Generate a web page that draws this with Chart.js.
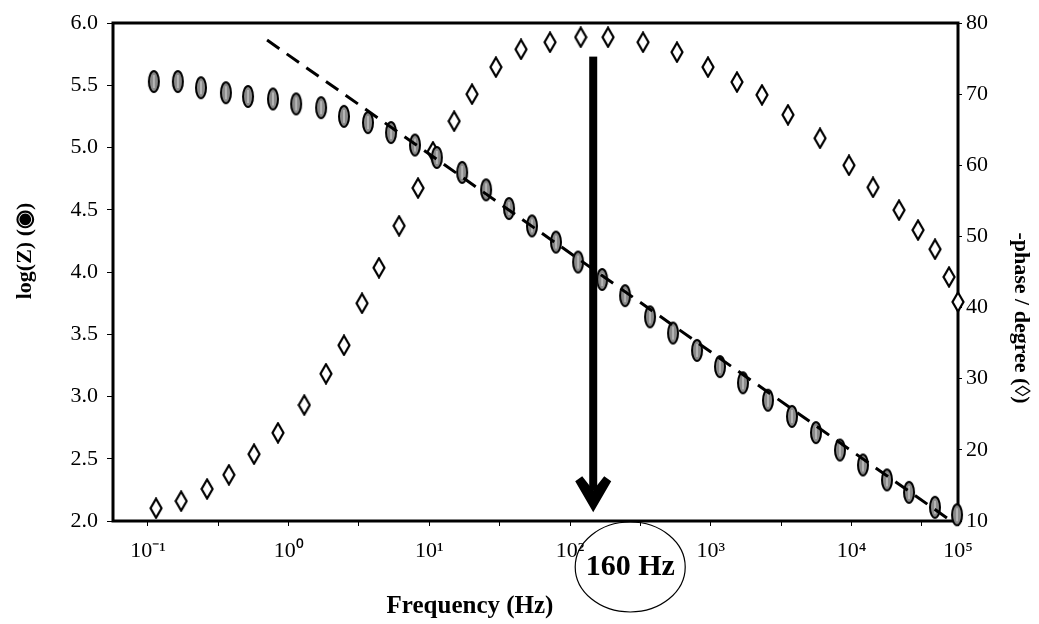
<!DOCTYPE html>
<html>
<head>
<meta charset="utf-8">
<script src="https://cdn.jsdelivr.net/npm/chart.js@4.4.1/dist/chart.umd.min.js"></script>
<style>
  html, body { margin: 0; padding: 0; background: #fff; }
  #wrap { width: 1039px; height: 624px; position: relative; }
</style>
</head>
<body>
<div id="wrap"><canvas id="bode"></canvas></div>
<script>
// |Z| points (filled ellipses), frequency in Hz and log10 of |Z|
const impFreq = [0.110, 0.163, 0.238, 0.358, 0.514, 0.773, 1.13, 1.70, 2.47, 3.66,
    5.34, 7.90, 11.3, 17.1, 25.3, 36.8, 53.6, 79.4, 114, 169,
    246, 370, 539, 798, 1162, 1693, 2548, 3775, 5592, 8283,
    12070, 17880, 25650, 39220, 56260];
const impLogZ = [5.53, 5.53, 5.48, 5.44, 5.41, 5.39, 5.35, 5.32, 5.25, 5.20,
    5.12, 5.02, 4.92, 4.80, 4.66, 4.51, 4.37, 4.24, 4.08, 3.94,
    3.81, 3.64, 3.51, 3.37, 3.24, 3.11, 2.97, 2.84, 2.71, 2.57,
    2.45, 2.33, 2.23, 2.11, 2.05];

// -phase points (open diamonds), degrees
const phaseFreq = [0.114, 0.172, 0.263, 0.376, 0.567, 0.839, 1.29, 1.84, 2.47, 3.32,
    4.38, 6.09, 8.30, 10.6, 15.0, 20.1, 29.7, 44.8, 72.0, 119,
    186, 330, 575, 955, 1535, 2311, 3538, 5975, 9600, 14220,
    21770, 29720, 39260, 49350, 57150];
const phaseDeg = [11.8, 12.8, 14.5, 16.5, 19.4, 22.4, 26.3, 30.7, 34.7, 40.6,
    45.6, 51.5, 56.8, 61.9, 66.2, 70.0, 73.8, 76.3, 77.3, 78.0,
    78.0, 77.3, 75.9, 73.8, 71.7, 69.9, 67.1, 63.8, 60.0, 56.9,
    53.7, 50.9, 48.2, 44.3, 40.8];

// dashed straight line, its two ends
const fitFreq = [0.702, 47760];
const fitLogZ = [5.863, 2.024];

// axes
const xMin = 0.0564;
const xMax = 57150;
const xTickValues = [0.1, 1, 10, 100, 1000, 10000, 57150];
const xTickLabels = ['10⁻¹', '10⁰', '10¹', '10²', '10³', '10⁴', '10⁵'];
const xMinorTicks = [0.316, 3.16, 31.6, 316, 3162, 31623];
const zTicks = [2, 2.5, 3, 3.5, 4, 4.5, 5, 5.5, 6];
const phaseTicks = [10, 20, 30, 40, 50, 60, 70, 80];

// arrow marking the phase peak
const peakFreq = 146;
const arrowTop = 5.73;
const arrowTip = 2.07;
const peakLabel = '160 Hz';

const serif = "'Liberation Serif', 'Times New Roman', serif";

// marker images
function ellipseMarker() {
    const c = document.createElement('canvas');
    c.width = 14; c.height = 25;
    const g = c.getContext('2d');
    g.beginPath();
    g.ellipse(7, 12.5, 5, 10.5, 0, 0, Math.PI * 2);
    g.fillStyle = '#8a8a8a';
    g.fill();
    g.lineWidth = 2;
    g.strokeStyle = '#000';
    g.stroke();
    g.strokeStyle = '#e0e0e0';
    g.lineWidth = 1;
    g.beginPath();
    g.moveTo(7, 6); g.lineTo(7, 19);
    g.stroke();
    return c;
}

function diamondMarker() {
    const c = document.createElement('canvas');
    c.width = 14; c.height = 22;
    const g = c.getContext('2d');
    g.beginPath();
    g.moveTo(7, 1.5); g.lineTo(12.5, 11); g.lineTo(7, 20.5); g.lineTo(1.5, 11);
    g.closePath();
    g.fillStyle = '#fff';
    g.fill();
    g.lineWidth = 2.2;
    g.strokeStyle = '#000';
    g.stroke();
    return c;
}

const decorations = {
    id: 'decorations',
    beforeDatasetsDraw(chart) {
        const { ctx, chartArea: a } = chart;
        ctx.save();
        ctx.strokeStyle = '#000';
        ctx.lineWidth = 3;
        ctx.strokeRect(a.left, a.top, a.right - a.left, a.bottom - a.top);
        ctx.restore();
    },
    afterDatasetsDraw(chart) {
        const { ctx, chartArea: a, scales } = chart;
        const x = scales.x.getPixelForValue(peakFreq);
        const yTop = scales.y.getPixelForValue(arrowTop);
        const yTip = scales.y.getPixelForValue(arrowTip);
        ctx.save();
        ctx.fillStyle = '#000';
        ctx.fillRect(x - 4, yTop, 8, yTip - yTop - 22);
        // arrow head
        ctx.beginPath();
        ctx.moveTo(x - 18, yTip - 31);
        ctx.lineTo(x - 11, yTip - 36);
        ctx.lineTo(x, yTip - 22);
        ctx.lineTo(x + 11, yTip - 36);
        ctx.lineTo(x + 18, yTip - 31);
        ctx.lineTo(x, yTip);
        ctx.closePath();
        ctx.fill();

        // circled label under the axis
        const cx = x + 37;
        const cy = a.bottom + 46;
        ctx.beginPath();
        ctx.ellipse(cx, cy, 55, 45, 0, 0, Math.PI * 2);
        ctx.lineWidth = 1.2;
        ctx.strokeStyle = '#000';
        ctx.stroke();
        ctx.font = 'bold 30px ' + serif;
        ctx.textAlign = 'center';
        ctx.textBaseline = 'middle';
        ctx.fillText(peakLabel, cx, cy);
        ctx.restore();
    },
    afterDraw(chart) {
        const { ctx } = chart;
        ctx.save();
        ctx.fillStyle = '#000';
        ctx.textAlign = 'center';
        ctx.textBaseline = 'middle';

        ctx.font = 'bold 25px ' + serif;
        ctx.fillText('Frequency (Hz)', 470, 607);

        ctx.font = 'bold 22px ' + serif;
        ctx.translate(25, 251);
        ctx.rotate(-Math.PI / 2);
        ctx.fillText('log(Z) (◉)', 0, 0);
        ctx.restore();

        ctx.save();
        ctx.fillStyle = '#000';
        ctx.textAlign = 'center';
        ctx.textBaseline = 'middle';
        ctx.font = 'bold 22px ' + serif;
        ctx.translate(1021, 318);
        ctx.rotate(Math.PI / 2);
        ctx.fillText('-phase / degree (◊)', 0, 0);
        ctx.restore();
    }
};

const tickFont = { family: serif, size: 22 };

new Chart(document.getElementById('bode'), {
    type: 'scatter',
    data: {
        datasets: [
            {
                label: 'log(Z)',
                data: impFreq.map((f, i) => ({ x: f, y: impLogZ[i] })),
                yAxisID: 'y',
                pointStyle: ellipseMarker(),
                pointRadius: 6,
                clip: false,
                order: 1
            },
            {
                label: '-phase',
                data: phaseFreq.map((f, i) => ({ x: f, y: phaseDeg[i] })),
                yAxisID: 'y1',
                pointStyle: diamondMarker(),
                pointRadius: 6,
                clip: false,
                order: 2
            },
            {
                label: 'fit',
                type: 'line',
                data: fitFreq.map((f, i) => ({ x: f, y: fitLogZ[i] })),
                yAxisID: 'y',
                borderColor: '#000',
                borderWidth: 3,
                borderDash: [15, 9],
                pointRadius: 0,
                fill: false,
                order: 0
            }
        ]
    },
    options: {
        responsive: true,
        maintainAspectRatio: false,
        animation: false,
        layout: { padding: { top: 23, left: 0, right: 0, bottom: 0 } },
        plugins: {
            legend: { display: false },
            tooltip: { enabled: false }
        },
        scales: {
            x: {
                type: 'logarithmic',
                position: 'bottom',
                min: xMin,
                max: xMax,
                afterBuildTicks: (scale) => {
                    scale.ticks = xTickValues.concat(xMinorTicks)
                        .sort((a, b) => a - b)
                        .map(v => ({ value: v }));
                },
                afterFit: (scale) => { scale.height = 103; },
                border: { display: false },
                grid: { drawOnChartArea: false, drawTicks: true, tickLength: 5, color: '#000', lineWidth: 1 },
                ticks: {
                    autoSkip: false,
                    maxRotation: 0,
                    padding: 12,
                    color: '#000',
                    font: tickFont,
                    callback: (value) => {
                        const i = xTickValues.indexOf(value);
                        return i >= 0 ? xTickLabels[i] : '';
                    }
                }
            },
            y: {
                type: 'linear',
                position: 'left',
                min: 2,
                max: 6,
                afterBuildTicks: (scale) => { scale.ticks = zTicks.map(v => ({ value: v })); },
                afterFit: (scale) => { scale.width = 113; },
                border: { display: false },
                grid: { drawOnChartArea: false, tickLength: 6, color: '#000', lineWidth: 1 },
                ticks: {
                    padding: 9,
                    color: '#000',
                    font: tickFont,
                    callback: (value) => Number(value).toFixed(1)
                }
            },
            y1: {
                type: 'linear',
                position: 'right',
                min: 10,
                max: 80,
                afterBuildTicks: (scale) => { scale.ticks = phaseTicks.map(v => ({ value: v })); },
                afterFit: (scale) => { scale.width = 81; },
                border: { display: false },
                grid: { drawOnChartArea: false, tickLength: 4, color: '#000', lineWidth: 1 },
                ticks: {
                    padding: 4,
                    color: '#000',
                    font: tickFont
                }
            }
        }
    },
    plugins: [decorations]
});
</script>
</body>
</html>
